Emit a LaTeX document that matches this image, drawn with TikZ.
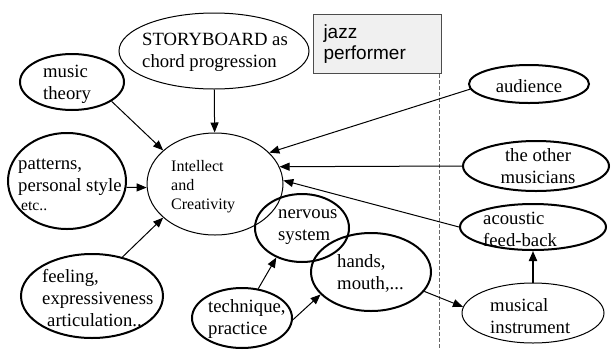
\documentclass[tikz,border=0pt]{standalone}
\usepackage{fontspec}
\setmainfont{Liberation Serif}
\setsansfont{Liberation Sans}
\usepackage{tikz}
\usetikzlibrary{shapes.geometric,arrows.meta}

\tikzset{
  bubble/.style={draw,ellipse,line width=1pt,inner sep=0pt},
  boldbubble/.style={bubble,line width=2pt},
  words/.style={align=left,anchor=west,inner sep=0pt,font=\fontsize{18.7}{22}\selectfont},
  feed/.style={line width=1pt,-{Triangle[length=10pt,width=8pt]}},
  divider/.style={black!60,line width=1pt,dash pattern=on 4pt off 2pt},
}

\begin{document}
\begin{tikzpicture}[x=1pt,y=-1pt]
\useasboundingbox (0,0) rectangle (611,349);

% Intellect and Creativity
\node[bubble,minimum width=136pt,minimum height=102pt] (intel) at (215,184) {};
\node[words,font=\fontsize{16}{19}\selectfont] (intel-t) at (171,187) {Intellect\\and\\Creativity};

% Storyboard
\node[bubble,minimum width=190pt,minimum height=76pt] (story) at (214,51) {};
\node[words] (story-t) at (142,52) {STORYBOARD as\\chord progression};

% music theory
\node[boldbubble,minimum width=104pt,minimum height=56pt] (theory) at (72,82) {};
\node[words] (theory-t) at (43,84) {music\\theory};

% patterns
\node[boldbubble,minimum width=118pt,minimum height=96pt] (patterns) at (67,181) {};
\node[words] (patterns-t) at (18,185) {patterns,\\personal style\\[-3pt]{\fontsize{15.6}{18}\selectfont\hspace*{3pt}etc..}};

% feeling
\node[boldbubble,minimum width=142pt,minimum height=84pt] (feeling) at (92,296) {};
\node[words] (feeling-t) at (42,298) {feeling,\\expressiveness\\\hspace*{5pt}articulation..};

% technique
\node[boldbubble,minimum width=100pt,minimum height=60pt] (technique) at (242,318) {};
\node[words] (technique-t) at (208,319) {technique,\\practice};

% nervous system
\node[boldbubble,minimum width=94pt,minimum height=68pt] (nervous) at (302,228) {};
\node[words] (nervous-t) at (278,227) {nervous\\system};

% hands
\node[boldbubble,minimum width=120pt,minimum height=78pt] (hands) at (371,272) {};
\node[words] (hands-t) at (337,273) {hands,\\mouth,...};

% jazz performer
\node[draw=black!70,fill=black!6,line width=1pt,anchor=north west,text width=108pt,inner xsep=10pt,
      minimum height=59pt,align=left,font=\sffamily\fontsize{19}{21}\selectfont] (performer) at (313,14) {jazz\\performer};

% border line
\coordinate (floor) at (439,349);
\draw[divider] (performer.south east -| floor) -- (floor);

% audience
\node[boldbubble,minimum width=120pt,minimum height=38pt] (audience) at (529,84) {};
\node[words,anchor=center] (audience-t) at (529,86) {audience};

% other musicians
\node[boldbubble,minimum width=146pt,minimum height=50pt] (others) at (536,166) {};
\node[words,anchor=center,align=center] (others-t) at (538,166) {the other\\musicians};

% acoustic feed-back
\node[boldbubble,minimum width=146pt,minimum height=46pt] (feedback) at (533,227) {};
\node[words] (feedback-t) at (483,229) {acoustic\\feed-back};

% musical instrument
\node[bubble,minimum width=142pt,minimum height=60pt] (instrument) at (533,313) {};
\node[words] (instrument-t) at (490,316) {musical\\instrument};

% Arrows into intellect
\draw[feed] (story) -- (intel);
\draw[feed] (theory.-26) -- (intel.147);
\draw[feed] (patterns.-6) -- (intel.183);
\draw[feed] (feeling.52) -- (intel.213);
\draw[feed] (audience.185) -- (intel.30);
\draw[feed] (others.180) -- (intel.15);
\draw[feed] (feedback.180) -- (intel.3);

% Arrows of the playing loop
\draw[feed] (technique.61) -- (nervous.229);
\draw[feed] (technique.-2) -- (hands.204);
\draw[feed] (hands.-20) -- (instrument.175);
\draw[feed,line width=2pt] (instrument) -- (feedback);
\end{tikzpicture}
\end{document}
